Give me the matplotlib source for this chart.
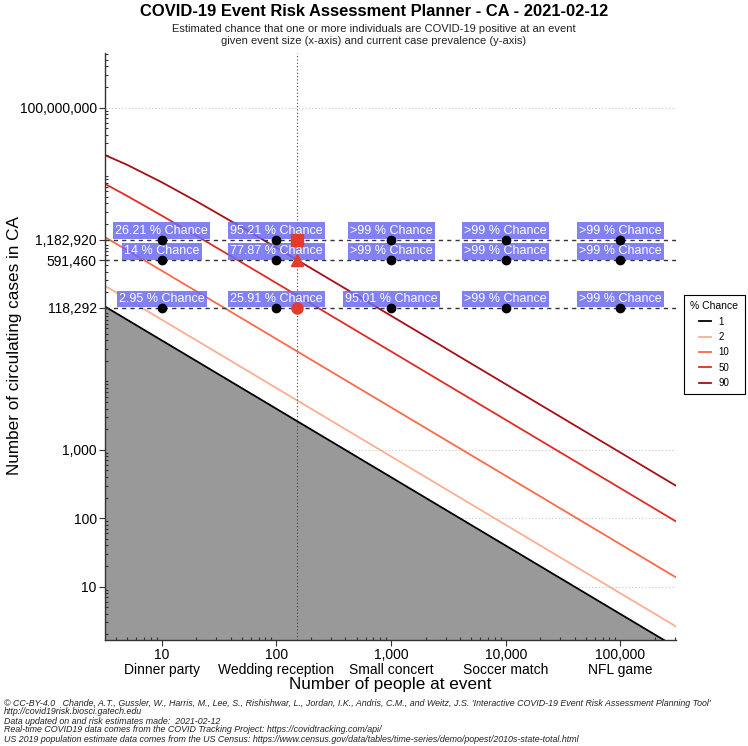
import matplotlib
matplotlib.use("Agg")
import matplotlib.pyplot as plt
from matplotlib.lines import Line2D
from matplotlib.ticker import LogLocator, NullFormatter, FixedLocator
import numpy as np

plt.rcParams['font.family'] = ['Liberation Sans', 'DejaVu Sans']

# ---- data ----
# event sizes along the curves, and circulating cases for each risk level
curve_n = [3.2, 5, 10, 20, 50, 100, 1000, 10000, 100000, 305000]
risk_levels = ['1', '2', '10', '50', '90']
risk_cases = {
    '1':  [123900, 79340, 39690, 19850, 7942, 3971, 397.1, 39.71, 3.971, 1.302],
    '2':  [248650, 159320, 79740, 39890, 15960, 7982, 798.2, 79.82, 7.982, 2.617],
    '10': [1279700, 823860, 414100, 207590, 83170, 41610, 4162, 416.3, 41.63, 13.65],
    '50': [7695000, 5114500, 2645900, 1345900, 543940, 272920, 27377, 2738.5, 273.9, 89.8],
    '90': [20270000, 14580900, 8126100, 4296700, 1778200, 899400, 90875, 9097, 909.7, 298.3],
}
risk_colors = ['black', '#fcae91', '#fb6a4a', '#de2d26', '#a50f15']

event_sizes = [10, 100, 1000, 10000, 100000]
event_names = ['Dinner party', 'Wedding reception', 'Small concert', 'Soccer match', 'NFL game']

case_levels = [1182920, 591460, 118292]
chance_labels = [
    ['26.21 % Chance', '95.21 % Chance', '>99 % Chance', '>99 % Chance', '>99 % Chance'],
    ['14 % Chance', '77.87 % Chance', '>99 % Chance', '>99 % Chance', '>99 % Chance'],
    ['2.95 % Chance', '25.91 % Chance', '95.01 % Chance', '>99 % Chance', '>99 % Chance'],
]
marker_n = 150
marker_shapes = ['s', '^', 'o']

y_ticks = [10, 100, 1000, 118292, 591460, 1182920, 100000000]
y_ticklabels = ['10', '100', '1,000', '118,292', '591,460', '1,182,920', '100,000,000']
x_ticklabels = ['10', '100', '1,000', '10,000', '100,000']

xlim = (3.2, 305000)
ylim = (1.66, 6.3e8)

# ---- figure ----
fig = plt.figure(figsize=(7.48, 7.46), dpi=100)
ax = fig.add_axes([0.1404, 0.1421, 0.9037 - 0.1404, 0.929 - 0.1421])
ax.set_xscale('log')
ax.set_yscale('log')
ax.set_xlim(*xlim)
ax.set_ylim(*ylim)

# faint grid at labelled decades
for yv in [10, 100, 1000, 100000000]:
    ax.axhline(yv, color='#c8c8c8', lw=0.8, ls=(0, (1, 2)), zorder=0)

# gray region below 1% line
ax.fill_between(curve_n, risk_cases['1'], 1e-3, color='#999999', lw=0, zorder=1)

for lvl, col in zip(risk_levels, risk_colors):
    ax.plot(curve_n, risk_cases[lvl], color=col, lw=1.3, zorder=2)

# case prevalence levels and event marker
for c in case_levels:
    ax.axhline(c, color='#333333', lw=1.0, ls=(0, (3, 3)), zorder=3)
ax.axvline(marker_n, color='#444444', lw=0.8, ls=(0, (1, 2)), zorder=3)

for i, c in enumerate(case_levels):
    for n, lab in zip(event_sizes, chance_labels[i]):
        ax.annotate(lab, (n, c), xytext=(0, 2), textcoords='offset points',
                    ha='center', va='bottom', color='white', fontsize=9, zorder=5,
                    bbox=dict(boxstyle='square,pad=0.18', fc=(0.42, 0.42, 0.95, 0.85), ec='none'))
    ax.plot(event_sizes, [c] * len(event_sizes), 'o', color='black', ms=6, zorder=6)
    ax.plot([marker_n], [c], marker=marker_shapes[i], color='#e53b2c', ms=8, zorder=7, ls='none')

# axes styling
for s in ['top', 'right']:
    ax.spines[s].set_visible(False)
for s in ['left', 'bottom']:
    ax.spines[s].set_color('#333333')
    ax.spines[s].set_linewidth(1.0)

ax.xaxis.set_major_locator(FixedLocator(event_sizes))
ax.set_xticklabels([f'{a}\n{b}' for a, b in zip(x_ticklabels, event_names)], fontsize=10, linespacing=1.05)
ax.yaxis.set_major_locator(FixedLocator(y_ticks))
ax.set_yticklabels(y_ticklabels, fontsize=10)
for axis in [ax.xaxis, ax.yaxis]:
    axis.set_minor_locator(LogLocator(base=10, subs=np.arange(1, 10), numticks=50))
    axis.set_minor_formatter(NullFormatter())
ax.tick_params(which='major', direction='out', length=4, width=0.8, color='#333333', pad=2)
ax.tick_params(which='minor', direction='in', length=2.5, width=0.8, color='#333333')

ax.set_xlabel('Number of people at event', fontsize=12.3, labelpad=0)
fig.text(15 / 748, 1 - 346 / 746, 'Number of circulating cases in CA', rotation=90,
         ha='center', va='center', fontsize=12.3)

# legend
handles = [Line2D([0], [0], color=c, lw=1.3) for c in risk_colors]
leg = fig.legend(handles, risk_levels, title='% Chance', loc='upper left',
                 bbox_to_anchor=(684 / 748, 1 - 295 / 746), fontsize=7, title_fontsize=7.5,
                 handlelength=1.2, handletextpad=0.8, labelspacing=0.55, borderpad=0.65,
                 borderaxespad=0, fancybox=False, edgecolor='black', framealpha=1)
leg.get_frame().set_linewidth(0.8)

# titles
fig.text(0.5, 1 - 12 / 746, 'COVID-19 Event Risk Assessment Planner - CA - 2021-02-12',
         ha='center', va='center', fontsize=11.9, fontweight='bold')
fig.text(0.5, 1 - 35 / 746,
         'Estimated chance that one or more individuals are COVID-19 positive at an event\n'
         'given event size (x-axis) and current case prevalence (y-axis)',
         ha='center', va='center', fontsize=8, linespacing=1.15, color='#222222')

footer = [
    '\u00a9 CC-BY-4.0   Chande, A.T., Gussler, W., Harris, M., Lee, S., Rishishwar, L., Jordan, I.K., Andris, C.M., and Weitz, J.S. \'Interactive COVID-19 Event Risk Assessment Planning Tool\'',
    'http://covid19risk.biosci.gatech.edu',
    'Data updated on and risk estimates made:  2021-02-12',
    'Real-time COVID19 data comes from the COVID Tracking Project: https://covidtracking.com/api/',
    'US 2019 population estimate data comes from the US Census: https://www.census.gov/data/tables/time-series/demo/popest/2010s-state-total.html',
]
for k, line in enumerate(footer):
    fig.text(4 / 748, 1 - (703 + 9 * k) / 746, line, ha='left', va='center',
             fontsize=6.4, style='italic', color='#222222')

fig.savefig('out.png', dpi=100)
